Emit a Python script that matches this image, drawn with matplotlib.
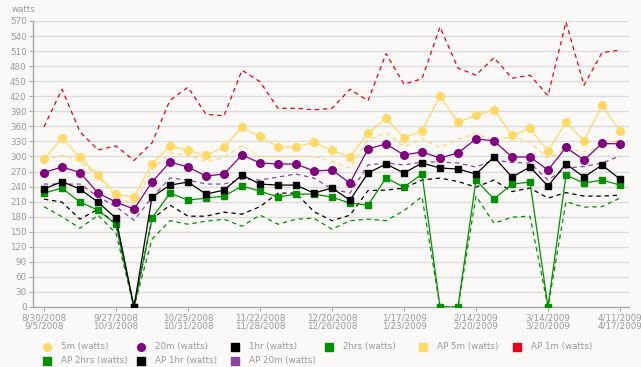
import matplotlib
matplotlib.use("Agg")
import matplotlib.pyplot as plt
from matplotlib.lines import Line2D
from matplotlib import font_manager
import pandas as pd

# weekly buckets, 8/30/2008 .. 4/11/2009
weeks = pd.date_range("2008-08-30", periods=33, freq="7D")

tick_idx = [0, 4, 8, 12, 16, 20, 24, 28, 32]
tick_labels = ["8/30/2008\n9/5/2008", "9/27/2008\n10/3/2008", "10/25/2008\n10/31/2008",
               "11/22/2008\n11/28/2008", "12/20/2008\n12/26/2008", "1/17/2009\n1/23/2009",
               "2/14/2009\n2/20/2009", "3/14/2009\n3/20/2009", "4/11/2009\n4/17/2009"]

p5m = [295, 336, 298, 263, 225, 219, 285, 321, 312, 302, 319, 358, 340, 319, 319, 328, 312,
       299, 346, 376, 337, 351, 420, 368, 382, 393, 342, 356, 311, 368, 331, 402, 351]
p20m = [268, 279, 268, 227, 209, 195, 249, 289, 279, 261, 265, 303, 287, 285, 285, 271, 273,
        247, 315, 325, 303, 309, 297, 307, 335, 331, 299, 299, 273, 318, 293, 326, 325]
p1hr = [235, 250, 235, 209, 177, 0, 219, 243, 249, 225, 233, 263, 245, 243, 243, 227, 237,
        213, 267, 285, 267, 287, 277, 275, 265, 299, 259, 279, 241, 285, 259, 283, 255]
p2hrs = [227, 237, 209, 193, 165, 0, 177, 227, 213, 217, 221, 241, 231, 219, 225, 225, 219,
         207, 203, 257, 239, 265, 0, 0, 253, 215, 245, 249, 0, 263, 247, 253, 243]
ap5m = [292, 303, 290, 260, 220, 205, 273, 307, 303, 290, 298, 322, 300, 300, 300, 300, 290,
        277, 333, 347, 320, 335, 318, 334, 346, 331, 340, 329, 296, 316, 309, 319, 334]
ap1m = [359, 434, 349, 313, 321, 292, 327, 412, 438, 384, 381, 472, 449, 396, 396, 393, 396,
        434, 411, 505, 444, 455, 558, 476, 462, 497, 456, 462, 421, 568, 442, 507, 512]
ap2hrs = [200, 180, 157, 183, 147, 0, 135, 172, 165, 171, 175, 161, 183, 165, 175, 177, 155,
          172, 175, 172, 192, 220, 0, 0, 221, 167, 179, 181, 0, 210, 199, 200, 217]
ap1hr = [215, 209, 175, 195, 165, 0, 175, 203, 181, 181, 189, 185, 200, 227, 227, 190, 172,
         183, 232, 233, 237, 253, 257, 250, 239, 253, 230, 237, 217, 228, 221, 221, 223]
ap20m = [245, 245, 245, 220, 200, 173, 218, 257, 253, 245, 245, 255, 253, 259, 265, 257, 235,
         227, 283, 287, 283, 289, 289, 287, 279, 293, 288, 287, 253, 277, 280, 287, 301]

YEL = "#ffd966"
PUR = "#800080"
GRN = "#009000"
RED = "#e8001c"
APPUR = "#8a44a8"
BG = "#faf9f7"
GRAY = "#9a9a9a"

# narrow font if there is one, the reference text is quite condensed
names = {f.name for f in font_manager.fontManager.ttflist}
if "Liberation Sans Narrow" in names:
    plt.rcParams["font.family"] = ["Liberation Sans Narrow", "DejaVu Sans"]
    FS = 7.5
else:
    plt.rcParams["font.family"] = ["DejaVu Sans"]
    FS = 6.3

x = list(range(len(weeks)))

fig = plt.figure(figsize=(6.41, 3.67), dpi=100, facecolor=BG)
ax = fig.add_axes([33/641, 60/367, 596/641, 286/367], facecolor=BG)

dash = (0, (3.5, 3.0))
lw = 0.9
# dashed "AP" series underneath
ax.plot(x, ap2hrs, color=GRN, lw=lw, ls=dash, zorder=3)
ax.plot(x, ap1hr, color="black", lw=lw, ls=dash, zorder=3)
ax.plot(x, ap20m, color=APPUR, lw=lw, ls=dash, zorder=3)
ax.plot(x, ap5m, color=YEL, lw=lw, ls=dash, zorder=3)
ax.plot(x, ap1m, color=RED, lw=lw, ls=dash, zorder=3)
# solid series with markers
ax.plot(x, p2hrs, color=GRN, lw=lw, marker="s", ms=5, zorder=4)
ax.plot(x, p1hr, color="black", lw=lw, marker="s", ms=5, zorder=4)
ax.plot(x, p20m, color=PUR, lw=lw, marker="o", ms=5.5, zorder=4)
ax.plot(x, p5m, color=YEL, lw=lw, marker="o", ms=5.5, zorder=4)

ax.set_xlim(-0.61, 32.5)
ax.set_ylim(0, 570)
ax.set_yticks(range(0, 571, 30))
ax.set_xticks(tick_idx)
ax.set_xticklabels(tick_labels, linespacing=0.95)
ax.grid(axis="y", color="#dcdcdc", lw=1.0)
ax.set_axisbelow(True)
for s in ["top", "right"]:
    ax.spines[s].set_visible(False)
for s in ["left", "bottom"]:
    ax.spines[s].set_color("#a8a8a8")
    ax.spines[s].set_linewidth(1.0)
ax.tick_params(colors="#a8a8a8", labelcolor=GRAY, labelsize=FS, length=3, pad=1.5)

fig.text(12/641, 1 - 9/367, "watts", color=GRAY, fontsize=FS, va="center", ha="left")

legend_items = [("5m (watts)", YEL, "o"), ("20m (watts)", PUR, "o"), ("1hr (watts)", "black", "s"),
                ("2hrs (watts)", GRN, "s"), ("AP 5m (watts)", YEL, "s"), ("AP 1m (watts)", RED, "s"),
                ("AP 2hrs (watts)", GRN, "s"), ("AP 1hr (watts)", "black", "s"),
                ("AP 20m (watts)", APPUR, "s")]
for k, (lab, col, mk) in enumerate(legend_items):
    row, c = divmod(k, 6)
    px = 47 + 94 * c
    py = 347 + 14 * row
    fig.add_artist(Line2D([px / 641], [1 - py / 367], marker=mk, color=col, ms=5.5,
                          ls="none", transform=fig.transFigure))
    fig.text((px + 14) / 641, 1 - py / 367, lab, color=GRAY, fontsize=FS,
             va="center", ha="left")

fig.savefig("out.png", dpi=100, facecolor=BG)
